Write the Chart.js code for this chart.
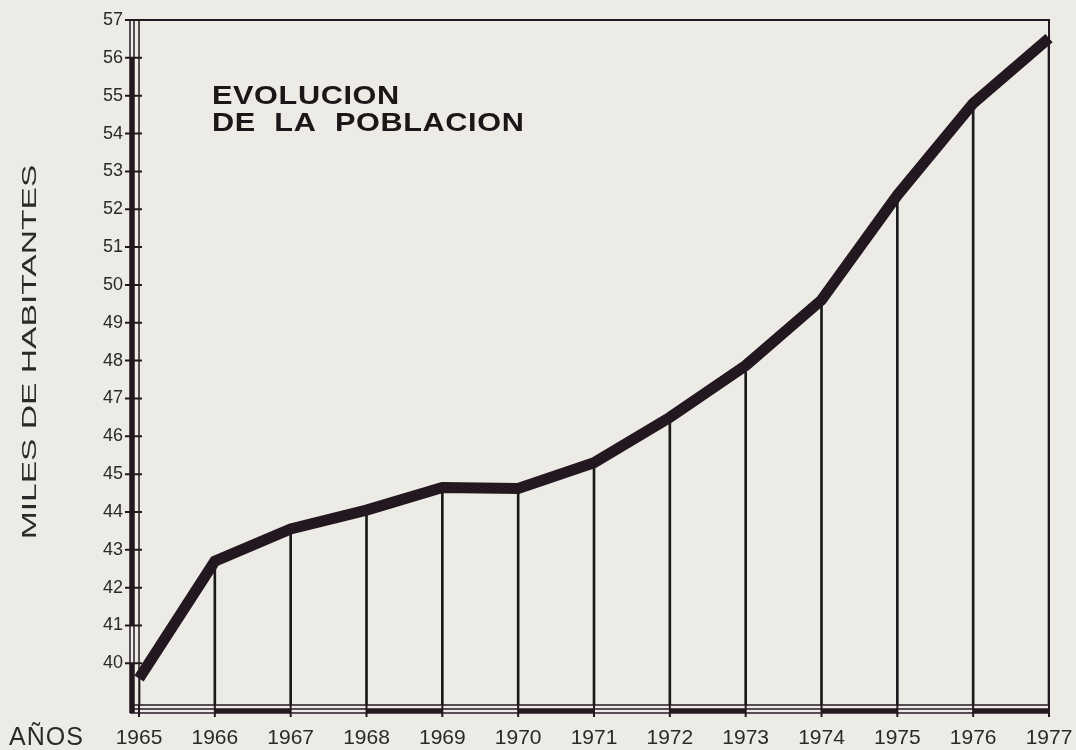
<!DOCTYPE html>
<html>
<head>
<meta charset="utf-8">
<script src="https://cdn.jsdelivr.net/npm/chart.js@4/dist/chart.umd.min.js"></script>
<style>
    html, body { margin: 0; padding: 0; background: #ecebe5; }
    #wrap { width: 1076px; height: 750px; position: relative; }
</style>
</head>
<body>
<div id="wrap"><canvas id="poblacionChart"></canvas></div>
<script>
// datos
var years = ['1965', '1966', '1967', '1968', '1969', '1970', '1971', '1972', '1973', '1974', '1975', '1976', '1977'];
var poblacion = [39.6, 42.7, 43.55, 44.05, 44.65, 44.62, 45.3, 46.5, 47.87, 49.6, 52.37, 54.8, 56.52];
var yTickValues = [40, 41, 42, 43, 44, 45, 46, 47, 48, 49, 50, 51, 52, 53, 54, 55, 56, 57];

var ink = '#241820';

// marco, ejes dobles y textos
var framePlugin = {
    id: 'frame',
    beforeDraw: function (chart) {
        var c = chart.ctx;
        c.save();
        c.fillStyle = '#ecebe5';
        c.fillRect(0, 0, chart.width, chart.height);
        c.restore();
    },
    beforeDatasetsDraw: function (chart) {
        var c = chart.ctx;
        var a = chart.chartArea;
        var xs = chart.scales.x;
        var ys = chart.scales.y;
        c.save();
        c.strokeStyle = ink;
        c.fillStyle = ink;

        // eje vertical: franja oscura
        var yTop = ys.getPixelForValue(56);
        c.fillRect(a.left - 9, yTop, 4, ys.getPixelForValue(41) - yTop);
        c.fillRect(a.left - 9, ys.getPixelForValue(40), 4, a.bottom + 8 - ys.getPixelForValue(40));

        // eje horizontal: franjas alternas
        for (var i = 1; i < years.length - 1; i += 2) {
            var x0 = xs.getPixelForTick(i);
            var x1 = xs.getPixelForTick(i + 1);
            c.fillRect(x0, a.bottom + 4, x1 - x0, 4);
        }

        c.lineWidth = 1.5;
        c.beginPath();
        [a.left - 9, a.left - 5, a.left].forEach(function (x) {
            c.moveTo(x, a.top);
            c.lineTo(x, a.bottom + 8);
        });
        [a.bottom, a.bottom + 4, a.bottom + 8].forEach(function (y) {
            c.moveTo(a.left - 9, y);
            c.lineTo(a.right, y);
        });
        c.stroke();

        c.lineWidth = 2;
        c.beginPath();
        c.moveTo(a.left - 10, a.top);
        c.lineTo(a.right, a.top);
        c.lineTo(a.right, a.bottom + 10);
        c.stroke();

        // marcas
        c.lineWidth = 2;
        c.beginPath();
        ys.ticks.forEach(function (t, i) {
            var y = ys.getPixelForTick(i);
            c.moveTo(a.left - 14, y);
            c.lineTo(a.left + 3, y);
        });
        xs.ticks.forEach(function (t, i) {
            var x = xs.getPixelForTick(i);
            c.moveTo(x, a.bottom);
            c.lineTo(x, a.bottom + 12);
        });
        c.stroke();
        c.restore();
    },
    afterDraw: function (chart) {
        var c = chart.ctx;
        c.save();
        c.fillStyle = '#1c1618';
        c.font = 'bold 26px "Liberation Sans", Arial, sans-serif';
        c.letterSpacing = '0.5px';
        c.wordSpacing = '8px';
        c.textBaseline = 'alphabetic';
        c.save();
        c.translate(212, 0);
        c.scale(1.18, 1);
        c.fillText('EVOLUCION', 0, 104);
        c.fillText('DE LA POBLACION', 0, 131);
        c.restore();

        c.fillStyle = '#2a2a2a';
        c.letterSpacing = '1px';
        c.wordSpacing = '0px';
        c.font = '25px "Liberation Sans", Arial, sans-serif';
        c.fillText('AÑOS', 9, 745);

        c.letterSpacing = '0px';
        c.translate(36, 352);
        c.rotate(-Math.PI / 2);
        c.scale(1.68, 1);
        c.font = '20px "Liberation Sans", Arial, sans-serif';
        c.textAlign = 'center';
        c.fillText('MILES DE HABITANTES', 0, 0);
        c.restore();
    }
};

var ctx = document.getElementById('poblacionChart').getContext('2d');

new Chart(ctx, {
    type: 'line',
    data: {
        labels: years,
        datasets: [{
            type: 'line',
            data: poblacion,
            borderColor: ink,
            borderWidth: 11,
            borderCapStyle: 'butt',
            borderJoinStyle: 'miter',
            pointRadius: 0,
            tension: 0,
            fill: false,
            order: 0
        }, {
            type: 'bar',
            data: poblacion,
            backgroundColor: '#1a1a1a',
            barThickness: 2,
            order: 1
        }]
    },
    options: {
        responsive: true,
        maintainAspectRatio: false,
        animation: false,
        layout: { padding: { top: 20, right: 27, bottom: 0, left: 0 } },
        plugins: {
            legend: { display: false },
            tooltip: { enabled: false }
        },
        scales: {
            x: {
                type: 'category',
                offset: false,
                grid: { display: false, drawTicks: false, offset: false },
                border: { display: false },
                ticks: {
                    color: '#2a2a2a',
                    font: { family: '"Liberation Sans", Arial, sans-serif', size: 21 },
                    padding: 21,
                    maxRotation: 0,
                    autoSkip: false
                },
                afterFit: function (scale) {
                    scale.height = 45;
                    scale.paddingLeft = 0;
                    scale.paddingRight = 0;
                }
            },
            y: {
                min: 38.9,
                max: 57,
                grid: { display: false, drawTicks: false },
                border: { display: false },
                afterBuildTicks: function (scale) {
                    scale.ticks = yTickValues.map(function (v) { return { value: v }; });
                },
                ticks: {
                    color: '#2a2a2a',
                    font: { family: '"Liberation Sans", Arial, sans-serif', size: 18 },
                    padding: 16
                },
                afterFit: function (scale) {
                    scale.width = 139;
                    scale.paddingTop = 0;
                    scale.paddingBottom = 0;
                }
            }
        }
    },
    plugins: [framePlugin]
});
</script>
</body>
</html>
